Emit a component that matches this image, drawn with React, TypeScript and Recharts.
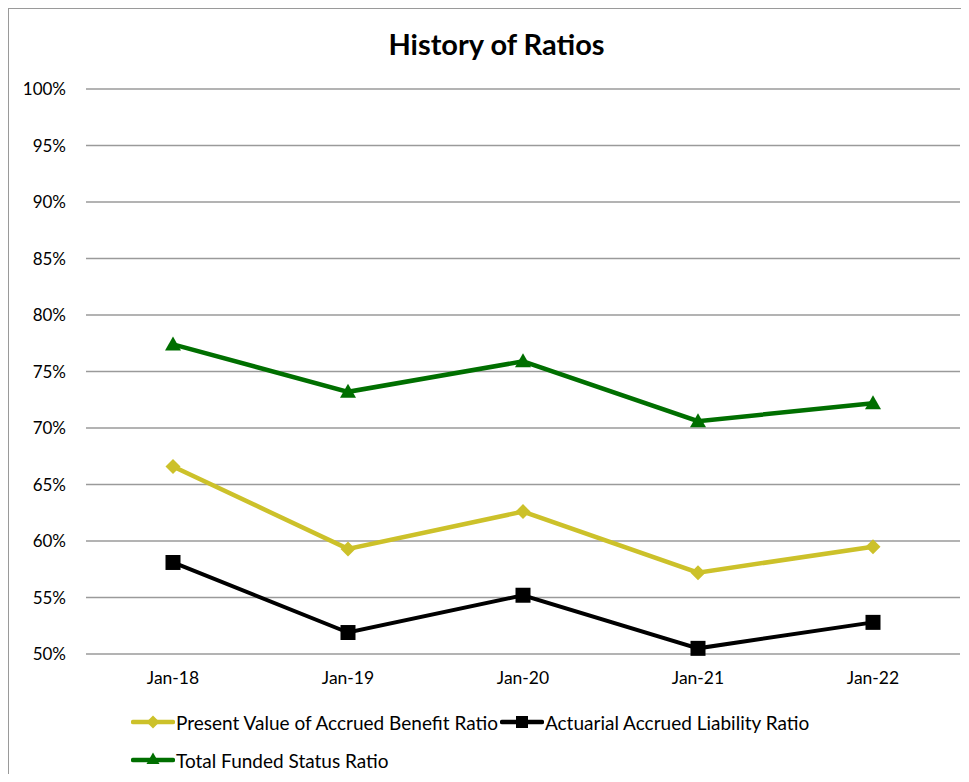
import React from "react";
import { LineChart, Line, XAxis, YAxis, CartesianGrid } from "recharts";

const categories = ["Jan-18", "Jan-19", "Jan-20", "Jan-21", "Jan-22"];
const pvabRatio = [66.6, 59.3, 62.6, 57.2, 59.5];
const aalRatio = [58.1, 51.9, 55.2, 50.5, 52.8];
const fundedRatio = [77.4, 73.2, 75.9, 70.6, 72.2];
const yTicks = [50, 55, 60, 65, 70, 75, 80, 85, 90, 95, 100];

const data = categories.map((c, i) => ({
  name: c,
  pvab: pvabRatio[i],
  aal: aalRatio[i],
  funded: fundedRatio[i],
}));

const YELLOW = "#CCC12A";
const BLACK = "#000000";
const GREEN = "#006F00";
const FONT = "Lato, 'Open Sans', sans-serif";

type Shape = "diamond" | "square" | "triangle";

const markerPath = (shape: Shape, cx: number, cy: number, s: number) => {
  if (shape === "diamond") {
    return `M${cx},${cy - s} L${cx + s},${cy} L${cx},${cy + s} L${cx - s},${cy} Z`;
  }
  if (shape === "square") {
    return `M${cx - s},${cy - s} L${cx + s},${cy - s} L${cx + s},${cy + s} L${cx - s},${cy + s} Z`;
  }
  return `M${cx},${cy - s} L${cx + s},${cy + s * 0.75} L${cx - s},${cy + s * 0.75} Z`;
};

const makeDot = (shape: Shape, color: string, s: number) => (props: any) => {
  const { cx, cy, index } = props;
  if (cx == null || cy == null) return <g key={index} />;
  return <path key={index} d={markerPath(shape, cx, cy, s)} fill={color} stroke="none" />;
};

const legendItems: { label: string; color: string; shape: Shape; s: number }[] = [
  { label: "Present Value of Accrued Benefit Ratio", color: YELLOW, shape: "diamond", s: 6.5 },
  { label: "Actuarial Accrued Liability Ratio", color: BLACK, shape: "square", s: 6 },
  { label: "Total Funded Status Ratio", color: GREEN, shape: "triangle", s: 6.5 },
];

const LegendIcon = ({ color, shape, s }: { color: string; shape: Shape; s: number }) => (
  <svg width={44} height={16} style={{ display: "block" }}>
    <line x1={2} y1={8} x2={42} y2={8} stroke={color} strokeWidth={4.5} strokeLinecap="round" />
    <path d={markerPath(shape, 22, shape === "triangle" ? 7 : 8, s)} fill={color} />
  </svg>
);

export default function App() {
  return (
    <div
      style={{
        width: 960,
        height: 765,
        borderLeft: "1px solid #9a9a9a",
        borderTop: "1px solid #9a9a9a",
        position: "relative",
        background: "#fff",
        overflow: "hidden",
      }}
    >
      <div
        style={{
          position: "absolute",
          top: 17,
          left: 0,
          width: 975,
          textAlign: "center",
          fontFamily: FONT,
          fontWeight: 700,
          fontSize: 29,
          color: "#000",
        }}
      >
        History of Ratios
      </div>
      <LineChart
        width={960}
        height={765}
        data={data}
        margin={{ top: 80, right: 9, left: 0, bottom: 72 }}
      >
        <CartesianGrid vertical={false} stroke="#9a9a9a" strokeWidth={1.3} />
        <XAxis
          dataKey="name"
          axisLine={false}
          tickLine={false}
          tickSize={0}
          tickMargin={18}
          height={48}
          padding={{ left: 87, right: 87 }}
          tick={{ fill: "#000", fontSize: 17.5, fontFamily: FONT }}
        />
        <YAxis
          domain={[50, 100]}
          ticks={yTicks}
          width={77}
          axisLine={false}
          tickLine={false}
          tickSize={0}
          tickMargin={20}
          interval={0}
          tickFormatter={(v: number) => `${v}%`}
          tick={{ fill: "#000", fontSize: 17, fontFamily: FONT }}
        />
        <Line
          dataKey="pvab"
          stroke={YELLOW}
          strokeWidth={4.5}
          dot={makeDot("diamond", YELLOW, 7.5)}
          activeDot={false}
          isAnimationActive={false}
        />
        <Line
          dataKey="aal"
          stroke={BLACK}
          strokeWidth={4}
          dot={makeDot("square", BLACK, 7.5)}
          activeDot={false}
          isAnimationActive={false}
        />
        <Line
          dataKey="funded"
          stroke={GREEN}
          strokeWidth={4.5}
          dot={makeDot("triangle", GREEN, 8)}
          activeDot={false}
          isAnimationActive={false}
        />
      </LineChart>
      <div
        style={{
          position: "absolute",
          top: 702,
          left: 122,
          display: "flex",
          flexWrap: "wrap",
          width: 760,
          fontFamily: FONT,
          fontSize: 19,
          color: "#000",
          rowGap: 16,
        }}
      >
        {legendItems.map((it) => (
          <div key={it.label} style={{ display: "flex", alignItems: "center", height: 22, marginRight: 2 }}>
            <LegendIcon color={it.color} shape={it.shape} s={it.s} />
            <span style={{ marginLeft: 1, whiteSpace: "nowrap" }}>{it.label}</span>
          </div>
        ))}
      </div>
    </div>
  );
}
